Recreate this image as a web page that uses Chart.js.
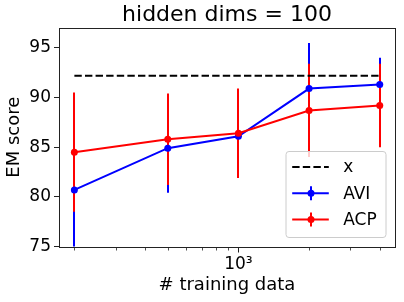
<!DOCTYPE html>
<html>
<head>
<meta charset="utf-8">
<script src="https://cdn.jsdelivr.net/npm/chart.js@4/dist/chart.umd.min.js"></script>
<style>
	html, body { margin: 0; padding: 0; background: #fff; }
	#wrap { width: 404px; height: 302px; }
</style>
</head>
<body>
<div id="wrap"><canvas id="c1" width="404" height="302"></canvas></div>
<script>
var trainSizes = [200, 500, 1000, 2000, 4000];
var aviMean = [80.7, 84.9, 86.1, 90.9, 91.3];
var aviErr = [6.5, 4.5, 3.5, 4.6, 2.7];
var acpMean = [84.5, 85.8, 86.4, 88.7, 89.2];
var acpErr = [6.0, 4.6, 4.5, 4.7, 4.2];
var refLevel = 92.2;
var refRange = [200, 4000];
var yTicks = [75, 80, 85, 90, 95];
var xMajorTicks = [1000];
var xMinorTicks = [200, 300, 400, 500, 600, 700, 800, 900, 2000, 3000, 4000];
var titleText = 'hidden dims = 100';

var FONT = "'DejaVu Sans', 'Liberation Sans', sans-serif";
var BLUE = '#0000ff', RED = '#ff0000', AXIS = '#222';

function points(xs, ys) {
	var out = [];
	for (var i = 0; i < xs.length; i++) {
		out.push({x: xs[i], y: ys[i]});
	}
	return out;
}

// error bars are drawn before the lines, like matplotlib does (bars under all data lines)
var errorBars = [
	{mean: aviMean, err: aviErr, color: BLUE},
	{mean: acpMean, err: acpErr, color: RED}
];

var extras = {
	id: 'extras',
	beforeDatasetsDraw: function(chart) {
		var ctx = chart.ctx;
		var xs = chart.scales.x, ys = chart.scales.y;
		var a = chart.chartArea;
		ctx.save();
		ctx.beginPath();
		ctx.rect(a.left, a.top, a.right - a.left, a.bottom - a.top);
		ctx.clip();
		ctx.lineWidth = 2;
		ctx.lineCap = 'butt';
		for (var s = 0; s < errorBars.length; s++) {
			var eb = errorBars[s];
			ctx.strokeStyle = eb.color;
			for (var i = 0; i < trainSizes.length; i++) {
				// snap to whole pixels so the bar of one series fully hides the other
				var px = Math.round(xs.getPixelForValue(trainSizes[i]));
				ctx.beginPath();
				ctx.moveTo(px, ys.getPixelForValue(eb.mean[i] - eb.err[i]));
				ctx.lineTo(px, ys.getPixelForValue(eb.mean[i] + eb.err[i]));
				ctx.stroke();
			}
		}
		ctx.restore();
	},
	afterDraw: function(chart) {
		var ctx = chart.ctx;
		var a = chart.chartArea;
		var xs = chart.scales.x;

		ctx.save();
		// title, centred over the plot area like matplotlib
		ctx.font = '22px ' + FONT;
		ctx.fillStyle = '#000';
		ctx.textAlign = 'center';
		ctx.textBaseline = 'middle';
		ctx.fillText(titleText, (a.left + a.right) / 2, 15);

		// full frame
		ctx.strokeStyle = AXIS;
		ctx.lineWidth = 1;
		ctx.strokeRect(Math.round(a.left) + 0.5, Math.round(a.top) + 0.5,
			Math.round(a.right - a.left), Math.round(a.bottom - a.top));

		// x ticks (major + minor, log axis)
		var yb = Math.round(a.bottom) + 0.5;
		function tick(v, len) {
			var px = Math.round(xs.getPixelForValue(v)) + 0.5;
			ctx.beginPath();
			ctx.moveTo(px, yb);
			ctx.lineTo(px, yb + len);
			ctx.stroke();
		}
		for (var i = 0; i < xMajorTicks.length; i++) tick(xMajorTicks[i], 5);
		ctx.lineWidth = 0.8;
		for (var j = 0; j < xMinorTicks.length; j++) tick(xMinorTicks[j], 3);
		ctx.restore();

		drawLegend(chart);
	}
};

function drawLegend(chart) {
	var ctx = chart.ctx;
	var a = chart.chartArea;
	var w = 100, h = 86;
	var right = a.right - 9.5, bottom = a.bottom - 9.5;
	var left = right - w, top = bottom - h;

	ctx.save();
	ctx.beginPath();
	ctx.roundRect(left + 0.5, top + 0.5, w, h, 3);
	ctx.fillStyle = 'rgba(255,255,255,0.8)';
	ctx.fill();
	ctx.strokeStyle = '#cccccc';
	ctx.lineWidth = 1;
	ctx.stroke();

	var items = [
		{label: chart.data.datasets[0].label, color: '#000', dash: true},
		{label: chart.data.datasets[1].label, color: BLUE},
		{label: chart.data.datasets[2].label, color: RED}
	];
	var x0 = left + 6.7, x1 = left + 43.3, xm = Math.round((x0 + x1) / 2);
	ctx.font = '17px ' + FONT;
	ctx.textBaseline = 'middle';
	ctx.textAlign = 'left';
	for (var i = 0; i < items.length; i++) {
		var it = items[i];
		var cy = top + 16 + i * 26.3;
		ctx.strokeStyle = it.color;
		ctx.fillStyle = it.color;
		ctx.lineWidth = 2;
		ctx.setLineDash(it.dash ? [7.4, 3.2] : []);
		ctx.beginPath();
		ctx.moveTo(x0, cy);
		ctx.lineTo(x1, cy);
		ctx.stroke();
		ctx.setLineDash([]);
		if (!it.dash) {
			ctx.beginPath();
			ctx.moveTo(xm, cy - 7);
			ctx.lineTo(xm, cy + 7);
			ctx.stroke();
			ctx.beginPath();
			ctx.arc(xm, cy, 3.5, 0, 2 * Math.PI);
			ctx.fill();
		}
		ctx.fillStyle = '#000';
		ctx.fillText(it.label, left + 57.7, cy + 1);
	}
	ctx.restore();
}

Chart.defaults.font.family = FONT;
Chart.defaults.color = '#000';

new Chart(document.getElementById('c1'), {
	type: 'line',
	data: {
		datasets: [{
			label: 'x',
			data: points(refRange, [refLevel, refLevel]),
			borderColor: '#000',
			borderWidth: 2,
			borderDash: [7.4, 3.2],
			pointRadius: 0,
			order: 2
		}, {
			label: 'AVI',
			data: points(trainSizes, aviMean),
			borderColor: BLUE,
			backgroundColor: BLUE,
			borderWidth: 2,
			pointRadius: 3.5,
			pointBorderWidth: 0,
			order: 1
		}, {
			label: 'ACP',
			data: points(trainSizes, acpMean),
			borderColor: RED,
			backgroundColor: RED,
			borderWidth: 2,
			pointRadius: 3.5,
			pointBorderWidth: 0,
			order: 0
		}]
	},
	options: {
		responsive: false,
		animation: false,
		layout: {padding: {left: 2, right: 9, top: 28, bottom: 2}},
		plugins: {
			legend: {display: false},
			tooltip: {enabled: false},
			title: {display: false}
		},
		scales: {
			x: {
				type: 'logarithmic',
				min: 172,
				max: 4646,
				afterBuildTicks: function(scale) {
					scale.ticks = xMajorTicks.concat(xMinorTicks).map(function(v) {
						return {value: v};
					});
				},
				afterFit: function(scale) { scale.height = 53.5; },
				ticks: {
					autoSkip: false,
					maxRotation: 0,
					padding: 3,
					font: {size: 17},
					callback: function(v) { return v === 1000 ? '10\u00b3' : ''; }
				},
				grid: {drawOnChartArea: false, tickLength: 5, tickColor: 'rgba(0,0,0,0)'},
				border: {display: false},
				title: {
					display: true,
					text: '# training data',
					font: {size: 18},
					padding: {top: 0, bottom: 4}
				}
			},
			y: {
				min: 75,
				max: 97,
				afterBuildTicks: function(scale) {
					scale.ticks = yTicks.map(function(v) { return {value: v}; });
				},
				afterFit: function(scale) { scale.width = 57; },
				ticks: {padding: 3, font: {size: 17}},
				grid: {drawOnChartArea: false, tickLength: 5, tickColor: AXIS},
				border: {display: false},
				title: {
					display: true,
					text: 'EM score',
					font: {size: 18},
					padding: {top: 2, bottom: 0}
				}
			}
		}
	},
	plugins: [extras]
});
</script>
</body>
</html>
